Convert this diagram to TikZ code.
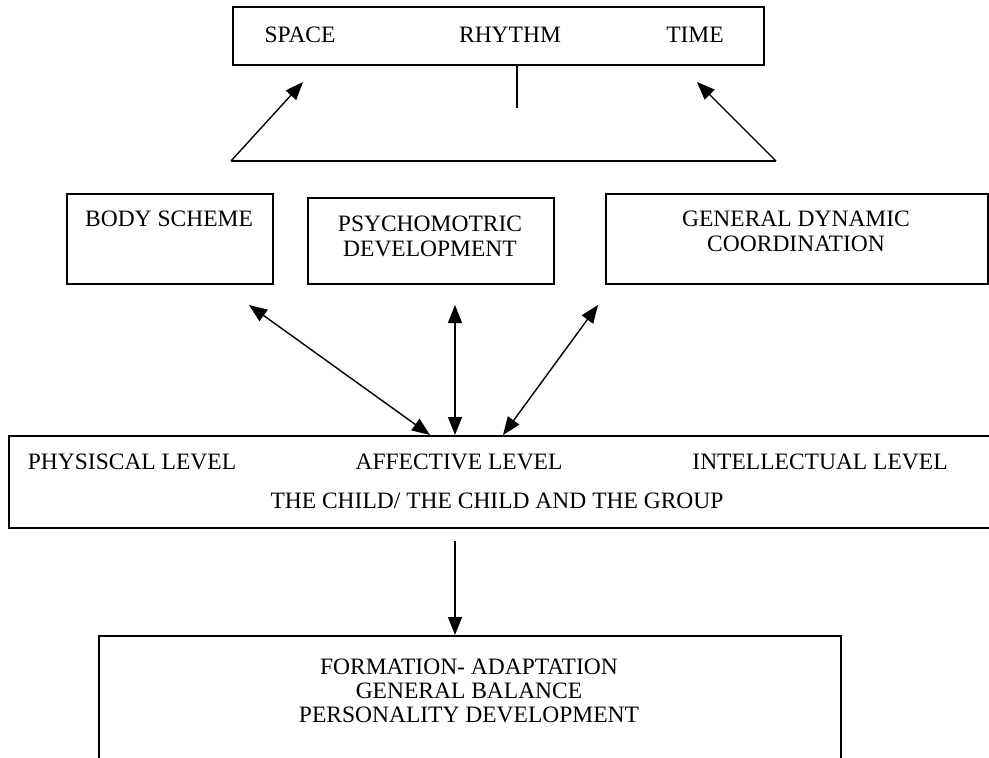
\documentclass[tikz,border=0pt]{standalone}
\usepackage{fontspec}
\setmainfont{Liberation Serif}
\usetikzlibrary{arrows.meta,positioning}
\begin{document}
\begin{tikzpicture}[x=1pt,y=-1pt,
    box/.style={draw,line width=1.5pt,inner sep=0pt,anchor=north west},
    lbl/.style={inner sep=0pt,anchor=base,font=\fontsize{23.5}{25}\selectfont},
    link/.style={line width=1.4pt},
    tip/.style={link,-{Triangle[length=18pt,width=14pt]}},
    both/.style={link,{Triangle[length=18pt,width=14pt]}-{Triangle[length=18pt,width=14pt]}}]
  \useasboundingbox (0,0) rectangle (989,758);
  \node[box,minimum width=531pt,minimum height=58pt] (axes) at (232,6) {};
  \node[lbl] (space) at (300,42) {SPACE};
  \node[lbl] (rhythm) at (510,42) {RHYTHM};
  \node[lbl] (time) at (695,42) {TIME};
  \coordinate (stub) at (517,108);
  \coordinate (bl) at (231,161);
  \coordinate (br) at (776,161);
  \coordinate (spacetip) at (303,82);
  \coordinate (timetip) at (697,82);
  \draw[link] (axes.south -| stub) -- (stub);
  \draw[link] (bl) -- (br);
  \draw[tip] (bl) -- (spacetip);
  \draw[tip] (br) -- (timetip);
  \node[box,minimum width=206pt,minimum height=90pt] (body) at (66,193) {};
  \node[box,minimum width=246pt,minimum height=86pt] (psycho) at (307,197) {};
  \node[box,minimum width=382pt,minimum height=90pt] (dynamic) at (605,193) {};
  \node[lbl] (bodytxt) at (169,226) {BODY SCHEME};
  \node[lbl] (psychoa) at (430,231) {PSYCHOMOTRIC};
  \node[lbl] (psychob) at (430,256) {DEVELOPMENT};
  \node[lbl] (dynamica) at (796,226) {GENERAL DYNAMIC};
  \node[lbl] (dynamicb) at (796,251) {COORDINATION};
  \node[box,minimum width=1000pt,minimum height=92pt] (level) at (8,435) {};
  \node[lbl] (physical) at (132,469) {PHYSISCAL LEVEL};
  \node[lbl] (affective) at (459,469) {AFFECTIVE LEVEL};
  \node[lbl] (intellectual) at (820,469) {INTELLECTUAL LEVEL};
  \node[lbl] (child) at (497,508) {THE CHILD/ THE CHILD AND THE GROUP};
  \coordinate (bodyend) at (249,305);
  \coordinate (psychoend) at (455,305);
  \coordinate (dynamicend) at (598,305);
  \coordinate (meetl) at (430,435);
  \coordinate (meetm) at (455,435);
  \coordinate (meetr) at (503,435);
  \draw[both] (bodyend) -- (meetl);
  \draw[both] (psychoend) -- (meetm);
  \draw[both] (dynamicend) -- (meetr);
  \node[box,minimum width=742pt,minimum height=140pt] (outcome) at (98,635) {};
  \node[lbl] (formation) at (469,674) {FORMATION- ADAPTATION};
  \node[lbl] (balance) at (469,698) {GENERAL BALANCE};
  \node[lbl] (personality) at (469,722) {PERSONALITY DEVELOPMENT};
  \coordinate (downstart) at (455,541);
  \draw[tip] (downstart) -- (downstart |- outcome.north);
\end{tikzpicture}
\end{document}
